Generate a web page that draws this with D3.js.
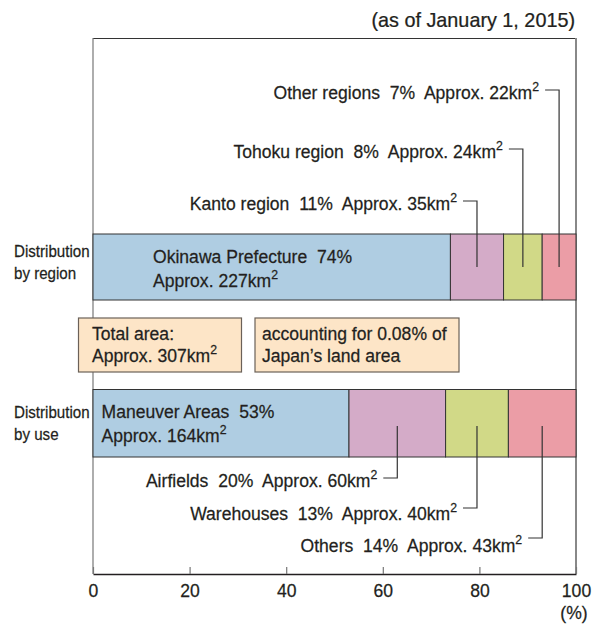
<!DOCTYPE html>
<html>
<head>
<meta charset="utf-8">
<script src="https://cdn.jsdelivr.net/npm/d3@7"></script>
<style>
  body { margin: 0; background: #fff; }
  svg text { font-family: "Liberation Sans", Arial, sans-serif; fill: #231f20; white-space: pre;
             stroke: #231f20; stroke-width: 0.25; }
</style>
</head>
<body>
<svg id="chart" width="601" height="624"></svg>
<script>
// data
const regionNames = ["Okinawa Prefecture", "Kanto region", "Tohoku region", "Other regions"];
const regionShares = [74, 11, 8, 7];
const regionAreas = [227, 35, 24, 22];

const useNames = ["Maneuver Areas", "Airfields", "Warehouses", "Others"];
const useShares = [53, 20, 13, 14];
const useAreas = [164, 60, 40, 43];

const segColors = ["#afcde2", "#d4abc8", "#d1d987", "#eb9da6"];
const ticks = [0, 20, 40, 60, 80, 100];
const totalArea = 307;
const landShare = 0.08;

const svg = d3.select("#chart");
const x = d3.scaleLinear().domain([0, 100]).range([93, 576]);

const FS = 18.5, SX = 0.95;

// text with optional superscript "2", squeezed horizontally like the condensed original
function label(px, py, main, sup, anchor = "start", size = FS, sx = SX) {
  const g = svg.append("g").attr("transform", `translate(${px},${py}) scale(${sx},1)`);
  const t = g.append("text").attr("text-anchor", anchor).attr("font-size", size);
  t.append("tspan").text(main);
  if (sup) t.append("tspan").attr("font-size", size * 0.7).attr("dy", -8).text(sup);
  return t;
}

// frame
svg.append("line").attr("x1", x(0)).attr("x2", x(100)).attr("y1", 38.5).attr("y2", 38.5)
  .attr("stroke", "#333").attr("stroke-width", 1.2);
svg.append("line").attr("x1", x(0)).attr("x2", x(0)).attr("y1", 38).attr("y2", 574)
  .attr("stroke", "#777").attr("stroke-width", 1.2);
svg.append("line").attr("x1", x(100)).attr("x2", x(100)).attr("y1", 38).attr("y2", 574)
  .attr("stroke", "#888").attr("stroke-width", 2);

label(575, 27, "(as of January 1, 2015)", null, "end", 20, 0.99);

function drawBar(shares, top, bottom) {
  const ends = Array.from(d3.cumsum(shares));
  const starts = ends.map((e, i) => e - shares[i]);
  svg.append("g").selectAll("rect").data(shares).join("rect")
    .attr("x", (d, i) => x(starts[i]))
    .attr("width", (d, i) => x(ends[i]) - x(starts[i]))
    .attr("y", top).attr("height", bottom - top)
    .attr("fill", (d, i) => segColors[i])
    .attr("stroke", "#333").attr("stroke-width", 1);
  return starts.map((s, i) => x(s + shares[i] / 2));
}

// by region
const regTop = 234, regBot = 300;
const regMid = drawBar(regionShares, regTop, regBot);
label(14, 257, "Distribution", null, "start", 17, 0.89);
label(14, 279, "by region", null, "start", 17, 0.89);
label(153, 263, `${regionNames[0]}  ${regionShares[0]}%`);
label(153, 287, `Approx. ${regionAreas[0]}km`, "2");

const regLeaderY = [201, 149, 90];
const regLabelY = [210, 158, 99];
for (let i = 1; i < regionNames.length; i++) {
  const cx = regMid[i], ly = regLeaderY[i - 1];
  svg.append("path")
    .attr("d", `M${cx - 14},${ly}H${cx}V${(regTop + regBot) / 2}`)
    .attr("fill", "none").attr("stroke", "#333").attr("stroke-width", 1.2);
  label(cx - 20, regLabelY[i - 1], `${regionNames[i]}  ${regionShares[i]}%  Approx. ${regionAreas[i]}km`, "2", "end");
}

// info boxes
svg.append("rect").attr("x", 78.5).attr("y", 318).attr("width", 163).attr("height", 54)
  .attr("fill", "#fde5c7").attr("stroke", "#6b6158").attr("stroke-width", 1.2);
label(92, 340, "Total area:");
label(92, 362, `Approx. ${totalArea}km`, "2");
svg.append("rect").attr("x", 255).attr("y", 318).attr("width", 204).attr("height", 54)
  .attr("fill", "#fde5c7").attr("stroke", "#6b6158").attr("stroke-width", 1.2);
label(262, 340, `accounting for ${landShare}% of`);
label(262, 362, "Japan\u2019s land area");

// by use
const useTop = 389.5, useBot = 457;
const useMid = drawBar(useShares, useTop, useBot);
label(14, 418, "Distribution", null, "start", 17, 0.89);
label(14, 440, "by use", null, "start", 17, 0.89);
label(101.5, 418, `${useNames[0]}  ${useShares[0]}%`);
label(101.5, 442, `Approx. ${useAreas[0]}km`, "2");

const useLeaderY = [478, 508, 538];
const useLabelY = [487, 520, 552];
for (let i = 1; i < useNames.length; i++) {
  const cx = useMid[i], ly = useLeaderY[i - 1];
  svg.append("path")
    .attr("d", `M${cx},426V${ly}H${cx - 14}`)
    .attr("fill", "none").attr("stroke", "#333").attr("stroke-width", 1.2);
  label(cx - 20, useLabelY[i - 1], `${useNames[i]}  ${useShares[i]}%  Approx. ${useAreas[i]}km`, "2", "end");
}

// axis
const axis = svg.append("g").attr("transform", "translate(0,574)")
  .call(d3.axisBottom(x).tickValues(ticks).tickSize(-7).tickSizeOuter(0).tickPadding(10));
axis.select(".domain").attr("stroke", "#231f20").attr("stroke-width", 1.6);
axis.selectAll(".tick line").attr("stroke", "#777").attr("stroke-width", 1.2);
axis.selectAll(".tick text").attr("font-size", FS).attr("font-family", "Liberation Sans, Arial, sans-serif")
  .attr("fill", "#231f20").attr("transform", `scale(${SX},1)`);
label(574, 619, "(%)", null, "middle");
</script>
</body>
</html>
